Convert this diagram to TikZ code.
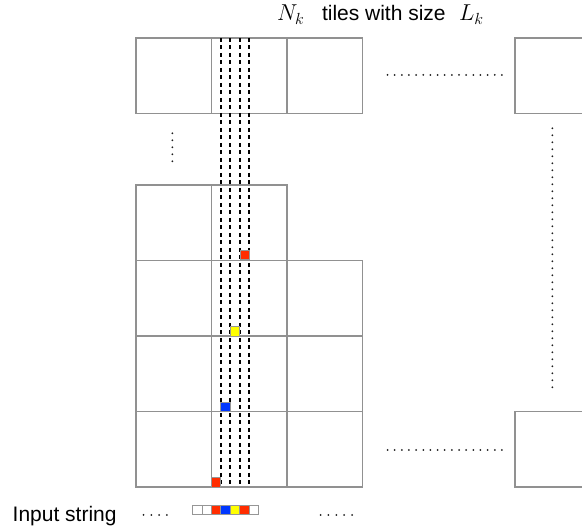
\documentclass[tikz,border=0pt]{standalone}
\usepackage{fix-cm}
\usepackage{fontspec}
\setmainfont{Liberation Sans}
\definecolor{gridgray}{RGB}{145,145,145}
\definecolor{sqgray}{RGB}{150,150,150}
\definecolor{cred}{RGB}{255,45,0}
\definecolor{cblue}{RGB}{0,55,255}
\definecolor{cyellow}{RGB}{255,255,0}
\definecolor{dotcol}{RGB}{30,30,30}
\tikzset{
  cell/.style={draw=gridgray, line width=1.3pt, minimum width=75.5pt, minimum height=75.5pt, inner sep=0pt, outer sep=0pt},
  sq/.style={draw=sqgray, line width=0.9pt, minimum width=9.4pt, minimum height=9.4pt, inner sep=0pt, outer sep=0pt},
  lbl/.style={inner sep=0pt, outer sep=0pt, anchor=base west, font=\fontsize{21}{25}\selectfont},
  mlbl/.style={inner sep=0pt, outer sep=0pt, anchor=base west, font=\fontsize{23}{27}\selectfont},
  dashline/.style={black, line width=2.1pt, dash pattern=on 4pt off 3.5pt},
  dotmark/.style={fill=dotcol}
}
\begin{document}
\begin{tikzpicture}[x=1pt,y=-1pt]
\useasboundingbox (0,0) rectangle (582,529);
\clip (0,0) rectangle (582,529);
% grid cells
\foreach \c/\x in {1/173.75,2/249.25,3/324.75}{
  \node[cell] (t\c) at (\x,75.75) {};
}
\node[cell] (tr) at (552.75,75.75) {};
\node[cell] (r2c1) at (173.75,222.75) {};
\node[cell] (r2c2) at (249.25,222.75) {};
\foreach \r/\y in {3/298.25,4/373.75,5/449.25}{
  \foreach \c/\x in {1/173.75,2/249.25,3/324.75}{
    \node[cell] (r\r c\c) at (\x,\y) {};
  }
}
\node[cell] (br) at (552.75,449.25) {};
% dashed vertical lines
\foreach \k in {1,2,3,4}{
  \coordinate (dtop\k) at (211.5+\k*9.4,38);
  \coordinate (dbot\k) at (211.5+\k*9.4,487);
  \draw[dashline] (dtop\k) -- (dbot\k);
}
% coloured squares in the grid
\node[sq, fill=cred] (s1) at (216.2,482.3) {};
\node[sq, fill=cblue] (s2) at (225.6,406.8) {};
\node[sq, fill=cyellow] (s3) at (235.0,331.3) {};
\node[sq, fill=cred] (s4) at (245.2,255.0) {};
% input string cells
\foreach \i/\col in {1/white,2/white,3/cred,4/cblue,5/cyellow,6/cred,7/white}{
  \node[sq, fill=\col] (in\i) at (192.7+4.7+\i*9.4-9.4,509.8) {};
}
% dots
\foreach \j in {0,...,4}{ \fill[dotmark] (172.3,133.3+\j*7) circle (1pt); }
\foreach \j in {0,...,37}{ \fill[dotmark] (552.3,128.3+\j*7) circle (1pt); }
\foreach \j in {0,...,16}{ \fill[dotmark] (387.5+\j*7.15,75) circle (1pt); }
\foreach \j in {0,...,16}{ \fill[dotmark] (387.5+\j*7.15,450) circle (1pt); }
\foreach \j in {0,...,3}{ \fill[dotmark] (143.5+\j*7.8,515) circle (1pt); }
\foreach \j in {0,...,4}{ \fill[dotmark] (320.5+\j*7.9,515) circle (1pt); }
% texts
\node[mlbl] (nk) at (277,20.7) {$N_k$};
\node[lbl] (tiles) at (322,20.7) {tiles with size};
\node[mlbl] (lk) at (459,20.7) {$L_k$};
\node[lbl] (input) at (12.7,521.5) {Input string};
\end{tikzpicture}
\end{document}
